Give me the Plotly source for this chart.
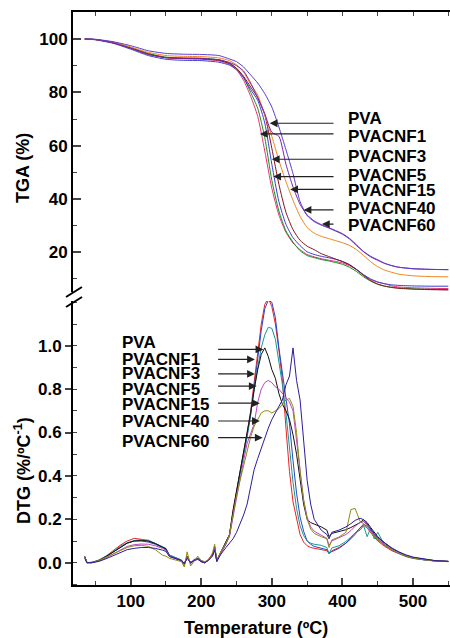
import plotly.graph_objects as go

# ---------------- DATA ----------------
series_names = ["PVA", "PVACNF1", "PVACNF3", "PVACNF5", "PVACNF15", "PVACNF40", "PVACNF60"]

# TGA (%) vs temperature
tga_temp = [35, 50, 75, 100, 125, 150, 175, 200, 225, 240, 250, 260, 270, 280, 290, 300, 310, 320, 330, 340,
            350, 360, 370, 380, 390, 400, 410, 420, 430, 440, 450, 460, 470, 480, 500, 525, 550]
tga_pva = [100, 99.8, 98.8, 96.8, 94.5, 93.0, 92.6, 92.4, 91.8, 90.5, 88.5, 84.5, 78.5, 71, 58, 44, 34, 27.5, 23.5, 21,
           19.2, 18.3, 17.6, 17.1, 16.6, 16.0, 15.0, 13.5, 11.5, 9.8, 8.8, 8.2, 7.4, 7.0, 6.7, 6.5, 6.4]
tga_cnf1 = [100, 99.8, 98.7, 96.8, 94.6, 93.2, 92.9, 92.8, 92.2, 91.0, 89.0, 85.5, 80.0, 74, 63, 47, 35.5, 28, 23.8, 20.6,
            18.8, 18.0, 17.3, 16.8, 16.2, 15.5, 14.4, 12.8, 10.8, 9.2, 8.0, 7.3, 6.9, 6.6, 6.3, 6.1, 6.0]
tga_cnf3 = [100, 99.7, 98.4, 96.2, 93.8, 92.4, 92.0, 91.9, 91.3, 90.2, 88.5, 85.5, 81.0, 77, 68.5, 53, 39, 30.5, 25.5, 22.5,
            20.2, 19.2, 18.5, 18.0, 17.4, 16.6, 15.4, 13.6, 11.6, 10.0, 8.9, 8.2, 7.8, 7.6, 7.4, 7.3, 7.3]
tga_cnf5 = [100, 99.8, 98.6, 96.6, 94.3, 93.0, 92.7, 92.6, 92.0, 90.8, 89.0, 86.0, 82.0, 78, 71.5, 59, 45.5, 35, 28.5, 24.5,
            22.3, 21.0, 19.5, 18.5, 17.5, 16.5, 15.3, 13.5, 11.3, 9.4, 8.1, 7.3, 6.8, 6.5, 6.2, 6.0, 5.9]
tga_cnf15 = [100, 99.8, 98.8, 97.0, 95.0, 93.8, 93.5, 93.4, 92.9, 91.9, 90.3, 87.5, 83.0, 79, 71.5, 63.5, 54.5, 46.5, 39.5, 33.5,
             29.3, 27.2, 26.0, 25.2, 24.4, 23.6, 22.6, 21.0, 18.8, 16.5, 14.6, 13.3, 12.5, 11.8, 11.2, 10.9, 10.8]
tga_cnf40 = [100, 99.8, 98.6, 96.5, 94.2, 93.0, 92.8, 92.7, 92.2, 91.2, 90.0, 88.0, 83.5, 78, 72, 65, 63.5, 53, 44.5, 38,
             34.0, 31.8, 30.4, 29.3, 28.2, 27.0, 25.2, 22.8, 20.2, 18.3, 17.0, 15.8, 15.0, 14.4, 13.9, 13.6, 13.5]
tga_cnf60 = [100, 99.9, 99.0, 97.5, 95.6, 94.6, 94.3, 94.2, 93.8, 92.5, 91.5, 89.5, 86.5, 83.5, 79.5, 74.5, 67, 58.5, 49.5, 39,
             33.8, 31.5, 30.2, 29.2, 28.0, 26.8, 25.0, 22.5, 20.3, 18.5, 17.2, 15.9, 15.0, 14.4, 13.8, 13.6, 13.5]

# DTG (%/°C) vs temperature
dtg_temp = [35, 38, 45, 55, 65, 75, 85, 95, 105, 115, 125, 135, 145, 150, 155, 165, 172, 176, 180, 185,
            190, 195, 200, 205, 210, 216, 219, 222, 228, 235, 240, 245, 250, 255, 260, 265, 270, 275, 280, 285,
            290, 295, 300, 305, 310, 315, 320, 325, 330, 335, 340, 345, 350, 355, 360, 370, 378, 381, 385, 395,
            405, 412, 418, 425, 430, 435, 440, 445, 450, 460, 470, 480, 490, 500, 515, 530, 550]
dtg_pva = [0.03, 0.002, 0.0, 0.012, 0.03, 0.055, 0.08, 0.1, 0.112, 0.108, 0.1, 0.088, 0.07, 0.062, 0.03, 0.018, 0.01, -0.01, 0.03, -0.005,
           0.012, 0.02, 0.005, 0.0, 0.015, 0.04, 0.075, 0.01, 0.05, 0.09, 0.13, 0.24, 0.33, 0.42, 0.5, 0.6, 0.7, 0.84, 0.97, 1.1,
           1.19, 1.22, 1.18, 1.1, 0.98, 0.84, 0.62, 0.42, 0.28, 0.2, 0.13, 0.095, 0.078, 0.07, 0.066, 0.06, 0.055, 0.042, 0.055, 0.07,
           0.09, 0.11, 0.13, 0.16, 0.172, 0.16, 0.138, 0.118, 0.1, 0.075, 0.055, 0.04, 0.028, 0.02, 0.013, 0.008, 0.005]
dtg_cnf1 = [0.025, 0.0, 0.002, 0.01, 0.028, 0.05, 0.072, 0.09, 0.1, 0.1, 0.095, 0.085, 0.07, 0.06, 0.035, 0.02, 0.012, -0.005, 0.025, 0.0,
            0.015, 0.018, 0.008, 0.002, 0.012, 0.035, 0.07, 0.01, 0.045, 0.085, 0.125, 0.23, 0.32, 0.41, 0.49, 0.58, 0.68, 0.81, 0.94, 1.07,
            1.17, 1.21, 1.2, 1.13, 0.99, 0.88, 0.76, 0.64, 0.47, 0.32, 0.21, 0.145, 0.1, 0.085, 0.075, 0.066, 0.06, 0.045, 0.052, 0.066,
            0.09, 0.115, 0.138, 0.163, 0.178, 0.168, 0.148, 0.128, 0.108, 0.08, 0.06, 0.045, 0.032, 0.022, 0.014, 0.009, 0.006]
dtg_cnf3 = [0.028, 0.0, 0.002, 0.012, 0.03, 0.05, 0.075, 0.092, 0.102, 0.106, 0.104, 0.09, 0.075, 0.066, 0.035, 0.02, 0.012, -0.005, 0.028, 0.0,
            0.012, 0.02, 0.006, 0.0, 0.012, 0.035, 0.07, 0.008, 0.05, 0.088, 0.128, 0.235, 0.325, 0.415, 0.5, 0.59, 0.69, 0.8, 0.9, 0.99,
            1.05, 1.085, 1.08, 1.03, 0.93, 0.82, 0.69, 0.53, 0.37, 0.25, 0.17, 0.125, 0.1, 0.09, 0.085, 0.08, 0.07, 0.04, 0.068, 0.078,
            0.098, 0.118, 0.138, 0.15, 0.17, 0.12, 0.16, 0.11, 0.14, 0.08, 0.06, 0.043, 0.03, 0.02, 0.013, 0.008, 0.005]
dtg_cnf5 = [0.028, 0.0, 0.0, 0.01, 0.028, 0.05, 0.072, 0.09, 0.1, 0.102, 0.1, 0.088, 0.072, 0.064, 0.03, 0.018, 0.01, -0.008, 0.028, -0.002,
            0.012, 0.02, 0.005, 0.0, 0.012, 0.035, 0.07, 0.01, 0.05, 0.09, 0.13, 0.24, 0.33, 0.42, 0.5, 0.59, 0.69, 0.8, 0.89, 0.96,
            0.99, 0.95, 0.89, 0.85, 0.78, 0.73, 0.7, 0.66, 0.59, 0.5, 0.38, 0.27, 0.2, 0.185, 0.178, 0.165, 0.15, 0.12, 0.135, 0.142,
            0.152, 0.162, 0.172, 0.185, 0.198, 0.185, 0.162, 0.14, 0.12, 0.09, 0.065, 0.047, 0.033, 0.023, 0.015, 0.01, 0.006]
dtg_cnf15 = [0.025, 0.0, 0.0, 0.008, 0.022, 0.04, 0.06, 0.075, 0.083, 0.086, 0.085, 0.078, 0.066, 0.058, 0.03, 0.018, 0.01, -0.008, 0.025, 0.0,
             0.012, 0.018, 0.006, 0.0, 0.012, 0.035, 0.068, 0.01, 0.048, 0.085, 0.12, 0.21, 0.3, 0.39, 0.47, 0.55, 0.6, 0.64, 0.74, 0.8,
             0.83, 0.84, 0.83, 0.81, 0.8, 0.78, 0.765, 0.74, 0.7, 0.56, 0.41, 0.29, 0.21, 0.165, 0.145, 0.125, 0.112, 0.08, 0.1, 0.115,
             0.13, 0.148, 0.168, 0.185, 0.19, 0.172, 0.15, 0.13, 0.11, 0.085, 0.062, 0.045, 0.032, 0.022, 0.014, 0.009, 0.006]
dtg_cnf40 = [0.025, 0.0, 0.0, 0.01, 0.025, 0.04, 0.058, 0.07, 0.078, 0.08, 0.075, 0.06, 0.035, 0.03, 0.02, 0.012, 0.005, -0.02, 0.05, -0.015,
             0.01, 0.03, 0.01, 0.005, 0.01, 0.045, 0.085, 0.005, 0.05, 0.09, 0.13, 0.23, 0.31, 0.38, 0.45, 0.52, 0.58, 0.63, 0.66, 0.69,
             0.7, 0.7, 0.69, 0.7, 0.71, 0.73, 0.75, 0.757, 0.72, 0.6, 0.42, 0.29, 0.2, 0.155, 0.135, 0.12, 0.11, 0.07, 0.105, 0.118,
             0.14, 0.245, 0.25, 0.19, 0.18, 0.16, 0.14, 0.12, 0.105, 0.08, 0.06, 0.044, 0.031, 0.022, 0.014, 0.009, 0.006]
dtg_cnf60 = [0.02, 0.0, 0.0, 0.006, 0.018, 0.032, 0.048, 0.06, 0.066, 0.07, 0.07, 0.066, 0.058, 0.052, 0.028, 0.016, 0.01, -0.005, 0.02, 0.0,
             0.01, 0.015, 0.005, 0.0, 0.01, 0.03, 0.06, 0.005, 0.04, 0.07, 0.09, 0.11, 0.14, 0.18, 0.22, 0.27, 0.35, 0.43, 0.48, 0.53,
             0.58, 0.62, 0.66, 0.69, 0.72, 0.75, 0.82, 0.86, 0.99, 0.84, 0.75, 0.56, 0.38, 0.27, 0.2, 0.15, 0.13, 0.11, 0.14, 0.15,
             0.165, 0.18, 0.195, 0.205, 0.198, 0.178, 0.155, 0.135, 0.115, 0.09, 0.068, 0.05, 0.036, 0.026, 0.018, 0.01, 0.006]

tga_series = [tga_pva, tga_cnf1, tga_cnf3, tga_cnf5, tga_cnf15, tga_cnf40, tga_cnf60]
dtg_series = [dtg_pva, dtg_cnf1, dtg_cnf3, dtg_cnf5, dtg_cnf15, dtg_cnf40, dtg_cnf60]

# label arrow targets (temperature, value)
tga_arrow_tip_T = [297, 283, 300, 302, 326, 345, 371]
tga_arrow_val = [68.4, 64.4, 54.9, 48.4, 43.6, 35.9, 30.6]
tga_label_val = [70.3, 63.6, 55.9, 49.0, 43.1, 36.5, 30.0]
dtg_arrow_tip_T = [288, 276, 276, 278.5, 283, 283, 287]
dtg_arrow_val = [0.983, 0.937, 0.870, 0.814, 0.735, 0.653, 0.576]
dtg_label_val = [1.014, 0.937, 0.873, 0.800, 0.727, 0.650, 0.558]

for s in tga_series:
    assert len(s) == len(tga_temp)
for s in dtg_series:
    assert len(s) == len(dtg_temp)

# ---------------- STYLE ----------------
tga_colors = ["#e8307a", "#12901a", "#3a3ad8", "#80161a", "#f0841e", "#7a22a8", "#5a3ccc"]
dtg_colors = ["#ee2020", "#3040c0", "#109a96", "#111111", "#c443c8", "#8c8c12", "#2c1c9c"]
FONT = "Liberation Sans"

fig = go.Figure()
for name, ys, c in zip(series_names, tga_series, tga_colors):
    fig.add_trace(go.Scatter(x=tga_temp, y=ys, mode="lines", name=name, line=dict(color=c, width=1, shape="spline", smoothing=0.6),
                             xaxis="x", yaxis="y", showlegend=False))
for name, ys, c in zip(series_names, dtg_series, dtg_colors):
    fig.add_trace(go.Scatter(x=dtg_temp, y=ys, mode="lines", name=name, line=dict(color=c, width=1),
                             xaxis="x2", yaxis="y2", showlegend=False))

XR = [18.3, 552.4]
tfont = dict(family=FONT, size=17, color="black", weight="bold")

layout = dict(
    width=450, height=638,
    margin=dict(l=73, r=0, t=12, b=53),
    paper_bgcolor="white", plot_bgcolor="white",
    font=dict(family=FONT, color="black"),
    xaxis=dict(domain=[0, 1], anchor="y", side="top", range=XR, showline=True, linewidth=2, linecolor="black",
               ticks="inside", ticklen=4, tickwidth=1, dtick=50, tick0=0, showticklabels=False, showgrid=False, zeroline=False),
    yaxis=dict(domain=[0.5113, 1], anchor="x", range=[5.11, 110.13], showline=True, linewidth=2, linecolor="black",
               tickvals=[20, 40, 60, 80, 100], ticks="inside", ticklen=8, tickwidth=1.5, tickfont=tfont,
               minor=dict(dtick=10, tick0=0, ticks="inside", ticklen=4, tickwidth=1),
               showgrid=False, zeroline=False),
    xaxis2=dict(domain=[0, 1], anchor="y2", range=XR, showline=True, linewidth=2, linecolor="black",
                tickvals=[100, 200, 300, 400, 500], ticks="inside", ticklen=7, tickwidth=1.5, tickfont=tfont,
                minor=dict(dtick=50, tick0=0, ticks="inside", ticklen=4, tickwidth=1),
                showgrid=False, zeroline=False),
    yaxis2=dict(domain=[0, 0.4956], anchor="x2", range=[-0.1028, 1.206], showline=True, linewidth=2, linecolor="black",
                tickvals=[0, 0.2, 0.4, 0.6, 0.8, 1.0], ticktext=["0.0", "0.2", "0.4", "0.6", "0.8", "1.0"],
                ticks="outside", ticklen=6, tickwidth=1.5, tickfont=tfont,
                minor=dict(dtick=0.1, tick0=0, ticks="inside", ticklen=4, tickwidth=1),
                showgrid=False, zeroline=False),
)
fig.update_layout(**layout)

annotations = []
lfont = dict(family=FONT, size=17, color="black", weight="bold")
# TGA labels (right side, arrows pointing left)
for name, tip, av, lv in zip(series_names, tga_arrow_tip_T, tga_arrow_val, tga_label_val):
    annotations.append(dict(x=tip, y=av, xref="x", yref="y", ax=389.5, ay=av, axref="x", ayref="y", text="",
                            showarrow=True, arrowhead=2, arrowsize=1.3, arrowwidth=1.2, arrowcolor="#222"))
    annotations.append(dict(x=405, y=lv, xref="x", yref="y", text=name, showarrow=False, xanchor="left",
                            yanchor="middle", font=lfont))
# DTG labels (left side, arrows pointing right)
for name, tip, av, lv in zip(series_names, dtg_arrow_tip_T, dtg_arrow_val, dtg_label_val):
    annotations.append(dict(x=tip, y=av, xref="x2", yref="y2", ax=221.8, ay=av, axref="x2", ayref="y2", text="",
                            showarrow=True, arrowhead=2, arrowsize=1.3, arrowwidth=1.2, arrowcolor="#222"))
    annotations.append(dict(x=84.8, y=lv, xref="x2", yref="y2", text=name, showarrow=False, xanchor="left",
                            yanchor="middle", font=lfont))
# axis titles
afont = dict(family=FONT, size=18, color="black", weight="bold")
annotations.append(dict(x=-0.1326, y=0.7277, xref="paper", yref="paper", text="TGA (%)", textangle=-90,
                        xanchor="center", yanchor="middle", showarrow=False, font=afont))
annotations.append(dict(x=-0.1326, y=0.199, xref="paper", yref="paper", text="DTG (%/ºC<sup>-1</sup>)", textangle=-90,
                        xanchor="center", yanchor="middle", showarrow=False, font=afont))
annotations.append(dict(x=0.4867, y=-0.075, xref="paper", yref="paper", text="Temperature (ºC)",
                        xanchor="center", yanchor="middle", showarrow=False, font=afont))
fig.update_layout(annotations=annotations)

# axis break marks
def px(xp, yp):
    return (xp - 73) / 377, (585 - yp) / 573
shapes = []
for (x0, y0, x1, y1) in [(66, 297, 82, 287), (66, 307, 82, 297)]:
    a, b = px(x0, y0)
    c, d = px(x1, y1)
    shapes.append(dict(type="line", xref="paper", yref="paper", x0=a, y0=b, x1=c, y1=d,
                       line=dict(color="black", width=2)))
fig.update_layout(shapes=shapes)

fig.write_html("out.html", config={"displayModeBar": False},
               post_script="document.body.style.margin='0';document.body.style.overflow='hidden';")
